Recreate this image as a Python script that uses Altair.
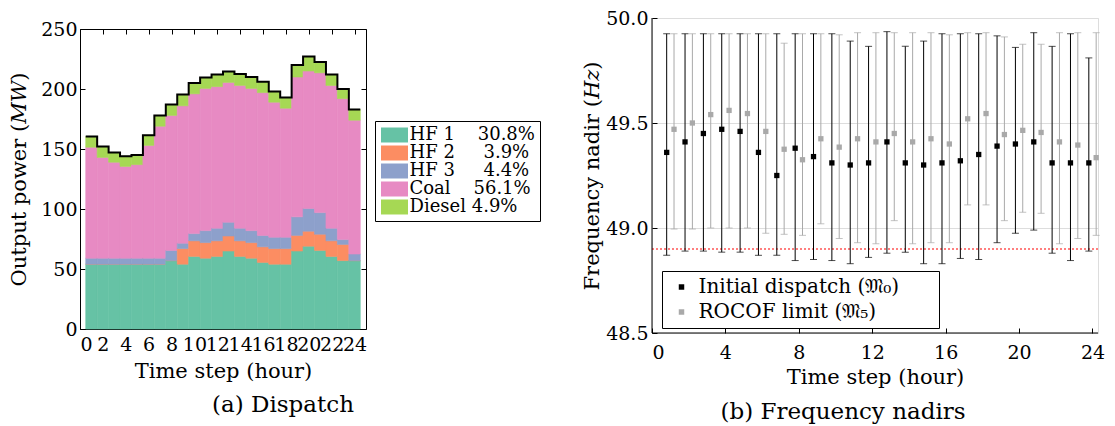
import altair as alt
import pandas as pd

FONT = "DejaVu Serif"
FS_TICK = 19
FS_TITLE = 21
FS_LEG = 18
FS_LEG_R = 20
FS_CAP = 23

# ---------------- Data: dispatch (left) ----------------
hours = list(range(1, 25))
sources = ["HF 1", "HF 2", "HF 3", "Coal", "Diesel"]
shares = ["30.8%", "3.9%", "4.4%", "56.1%", "4.9%"]
colors = ["#66c2a5", "#fc8d62", "#8da0cb", "#e78ac3", "#a6d854"]

hf1 = [54, 54, 54, 54, 54, 54, 54, 57, 54, 60.5, 59, 60.5, 65, 60.5, 59, 55.5, 54, 54, 65, 69, 65.5, 60.5, 57, 57]
hf2 = [0, 0, 0, 0, 0, 0, 0, 0, 13, 13, 13, 13, 12.5, 13, 13, 13, 13, 13, 13, 12.5, 13.5, 13, 13.5, 0]
hf3 = [5, 5, 5, 5, 5, 5, 5, 8.5, 4.5, 6, 10, 10.5, 11.5, 10.5, 10, 9.5, 9.5, 9.5, 15.5, 19, 18, 10.5, 4, 5.5]
coal = [92.5, 84, 80, 76.5, 78, 94, 110, 112.5, 114.5, 116.5, 118.5, 118, 116.5, 119, 118.5, 119, 112.5, 107.5, 116.5, 114.5, 116.5, 119, 117.5, 111.5]
diesel = [9, 9, 8, 8.5, 8, 8.5, 9, 9, 9.5, 9, 9, 10, 9, 9.5, 9.5, 9, 9, 9, 10, 12, 9, 9, 8, 9]

# ---------------- Data: frequency nadirs (right) ----------------
series = ["Initial dispatch (\U0001D510\u2080)", "ROCOF limit (\U0001D510\u2085)"]
init_nadir = [49.36, 49.41, 49.45, 49.47, 49.46, 49.36, 49.25, 49.38, 49.34, 49.31, 49.30, 49.31,
              49.41, 49.31, 49.30, 49.31, 49.32, 49.35, 49.39, 49.40, 49.41, 49.31, 49.31, 49.31]
init_hi = [49.925, 49.925, 49.925, 49.925, 49.925, 49.925, 49.925, 49.925, 49.925, 49.925, 49.89, 49.865,
           49.935, 49.865, 49.89, 49.925, 49.925, 49.925, 49.915, 49.86, 49.93, 49.865, 49.925, 49.81]
init_lo = [48.87, 48.89, 48.89, 48.885, 48.885, 48.87, 48.87, 48.845, 48.85, 48.845, 48.83, 48.86,
           48.88, 48.885, 48.83, 48.83, 48.855, 48.85, 48.93, 48.975, 48.99, 48.88, 48.845, 48.89]
rocof_nadir = [49.47, 49.50, 49.54, 49.56, 49.545, 49.46, 49.375, 49.325, 49.425, 49.385, 49.425, 49.41,
               49.45, 49.41, 49.425, 49.40, 49.52, 49.545, 49.445, 49.465, 49.455, 49.41, 49.395, 49.335]
rocof_hi = [49.925, 49.925, 49.925, 49.925, 49.925, 49.925, 49.88, 49.925, 49.925, 49.92, 49.93, 49.93,
            49.93, 49.93, 49.93, 49.92, 49.93, 49.93, 49.91, 49.875, 49.875, 49.93, 49.93, 49.93]
rocof_lo = [48.995, 48.995, 49.0, 49.0, 49.0, 48.975, 48.97, 48.965, 49.02, 48.95, 48.93, 48.925,
            49.035, 48.925, 48.93, 48.93, 49.11, 49.11, 49.035, 49.075, 49.07, 48.925, 48.95, 48.965]
nadir_limit = 48.9

# ---------------- Build tables ----------------
comp = [hf1, hf2, hf3, coal, diesel]
rows = []
for i, h in enumerate(hours):
    for k, s in enumerate(sources):
        rows.append({"hour": h, "source": s, "order": k, "value": comp[k][i]})
df_disp = pd.DataFrame(rows)

tot_rows = []
for i, h in enumerate(hours):
    total = sum(c[i] for c in comp)
    tot_rows.append({"seq": 2 * h, "xp": h - 0.5, "total": total})
    tot_rows.append({"seq": 2 * h + 1, "xp": h + 0.5, "total": total})
df_tot = pd.DataFrame(tot_rows)

shift = {series[0]: -0.2, series[1]: 0.2}
frows = []
for i, h in enumerate(hours):
    frows.append({"hour": h, "series": series[0], "x": h + shift[series[0]],
                  "nadir": init_nadir[i], "lo": init_lo[i], "hi": init_hi[i]})
    frows.append({"hour": h, "series": series[1], "x": h + shift[series[1]],
                  "nadir": rocof_nadir[i], "lo": rocof_lo[i], "hi": rocof_hi[i]})
df_freq = pd.DataFrame(frows)

# ---------------- Left chart ----------------
NB = "\u00a0"
label_map = {
    "HF 1": "HF 1" + NB * 4 + shares[0],
    "HF 2": "HF 2" + NB * 5 + shares[1],
    "HF 3": "HF 3" + NB * 5 + shares[2],
    "Coal": "Coal" + NB * 4 + shares[3],
    "Diesel": "Diesel" + NB + shares[4],
}
label_expr = "{" + ",".join(f"'{k}':'{v}'" for k, v in label_map.items()) + "}[datum.label]"

xdom_l = [0, 25]
ydom_l = [0, 250]
xticks_l = list(range(0, 25, 2))
yticks_l = [0, 50, 100, 150, 200, 250]

ax_common = dict(labelFont=FONT, labelFontSize=FS_TICK, titleFont=FONT, titleFontSize=FS_TITLE,
                 titleFontWeight="normal", labelColor="black", titleColor="black",
                 tickColor="black", domain=False, grid=False, offset=-5, tickSize=5)

color_l = alt.Scale(domain=sources, range=colors)
rects = alt.Chart(df_disp).transform_stack(
    stack="value", groupby=["hour"], sort=[alt.SortField("order")], as_=["y0", "y1"]
).transform_calculate(
    x0="datum.hour - 0.5", x1="datum.hour + 0.5"
).mark_rect(strokeWidth=0.6).encode(
    x=alt.X("x0:Q", scale=alt.Scale(domain=xdom_l, nice=False),
            axis=alt.Axis(values=xticks_l, title="Time step (hour)", labelOverlap=False,
                          labelPadding=6, titlePadding=6, orient="bottom", **ax_common)),
    x2="x1:Q",
    y=alt.Y("y1:Q", scale=alt.Scale(domain=ydom_l, nice=False),
            axis=alt.Axis(values=yticks_l, title="Output power (\U0001D440\U0001D44A)",
                          labelPadding=3, titlePadding=11, orient="left", **ax_common)),
    y2="y0:Q",
    stroke=alt.Stroke("source:N", scale=color_l, legend=None),
    color=alt.Color("source:N", scale=color_l, sort=sources,
                    legend=alt.Legend(orient="none", legendX=295, legendY=103, title=None,
                                      labelFont=FONT, labelFontSize=FS_LEG, labelColor="black",
                                      labelExpr=label_expr, labelOffset=6,
                                      symbolType="M-1.8,-1L1.8,-1L1.8,1L-1.8,1Z",
                                      symbolSize=225, symbolStrokeWidth=0, symbolOpacity=1,
                                      symbolOffset=5.5, padding=5, rowPadding=0,
                                      strokeColor="black", fillColor="white", labelLimit=300)),
)

total_line = alt.Chart(df_tot).mark_line(color="black", strokeWidth=2).encode(
    x=alt.X("xp:Q", scale=alt.Scale(domain=xdom_l, nice=False),
            axis=alt.Axis(values=xticks_l, title=None, orient="top", labels=False,
                          tickColor="black", domain=False, grid=False, offset=-5, tickSize=5)),
    y=alt.Y("total:Q", scale=alt.Scale(domain=ydom_l, nice=False),
            axis=alt.Axis(values=yticks_l, title=None, orient="right", labels=False,
                          tickColor="black", domain=False, grid=False, offset=-5, tickSize=5)),
    order=alt.Order("seq:Q"),
)

left = alt.layer(rects, total_line).resolve_scale(x="independent", y="independent").properties(
    width=286, height=300,
    view=alt.ViewBackground(stroke="black", strokeWidth=1),
    title=alt.TitleParams("(a) Dispatch", orient="bottom", anchor="middle", frame="group",
                          font=FONT, fontSize=FS_CAP, fontWeight="normal", color="black",
                          offset=13, dx=60),
)

# empty spacer that lowers the dispatch panel a few pixels, as in the original figure
spacer = alt.Chart(pd.DataFrame({"v": []})).mark_point(opacity=0).properties(width=286, height=1)
left_col = alt.vconcat(spacer, left, spacing=0)

# ---------------- Right chart ----------------
xdom_r = [0, 24.3]
ydom_r = [48.5, 50.0]
xticks_r = list(range(0, 25, 2))
yticks_r = [48.5, 49.0, 49.5, 50.0]

base = alt.Chart(df_freq)
xr = alt.X("x:Q", scale=alt.Scale(domain=xdom_r, nice=False),
           axis=alt.Axis(values=xticks_r, title="Time step (hour)", labelOverlap=False,
                         labelPadding=10, titlePadding=4, **ax_common))
yscale_r = alt.Scale(domain=ydom_r, nice=False)

leg_r = alt.Legend(orient="none", legendX=10, legendY=253, title=None,
                   labelFont=FONT, labelFontSize=FS_LEG_R, labelColor="black",
                   symbolType="square", symbolSize=30, symbolOpacity=1, symbolStrokeWidth=0,
                   symbolOffset=3.5, labelOffset=7, padding=6, rowPadding=5,
                   strokeColor="black", fillColor="white", labelLimit=400,
                   labelExpr="datum.label + '" + NB * 3 + "\u2800'")
color_r = alt.Color("series:N", scale=alt.Scale(domain=series, range=["#000000", "#a9a9a9"]),
                    legend=leg_r)

grid_axis = alt.Axis(values=yticks_r, format=".1f", title="Frequency nadir (\U0001D43B\U0001D467)",
                     labelPadding=4, titlePadding=3, gridColor="#dddddd", gridWidth=1,
                     labelFont=FONT, labelFontSize=FS_TICK, titleFont=FONT, titleFontSize=FS_TITLE,
                     titleFontWeight="normal", labelColor="black", titleColor="black",
                     tickColor="black", domain=False, grid=True, offset=-5, tickSize=5)

bars = base.mark_rule(strokeWidth=1).encode(
    x=xr, y=alt.Y("lo:Q", scale=yscale_r, axis=grid_axis), y2="hi:Q", color=color_r)
cap_hi = base.mark_tick(orient="horizontal", size=7, thickness=1).encode(
    x="x:Q", y=alt.Y("hi:Q", scale=yscale_r), color=color_r)
cap_lo = base.mark_tick(orient="horizontal", size=7, thickness=1).encode(
    x="x:Q", y=alt.Y("lo:Q", scale=yscale_r), color=color_r)
marks = base.mark_square(size=28, opacity=1).encode(
    x="x:Q", y=alt.Y("nadir:Q", scale=yscale_r), color=color_r)
limit_rule = alt.Chart().mark_rule(color="red", strokeWidth=1.2, strokeDash=[2, 2]).encode(
    y=alt.datum(nadir_limit, scale=yscale_r))
bottom_line = alt.Chart().mark_rule(color="black", strokeWidth=1).encode(
    y=alt.datum(ydom_r[0], scale=yscale_r))
left_line = alt.Chart().mark_rule(color="black", strokeWidth=1).encode(
    x=alt.datum(xdom_r[0]))

right = alt.layer(limit_rule, bars, cap_hi, cap_lo, marks, bottom_line, left_line).properties(
    width=446, height=315,
    title=alt.TitleParams("(b) Frequency nadirs", orient="bottom", anchor="middle", frame="group",
                          font=FONT, fontSize=FS_CAP, fontWeight="normal", color="black",
                          offset=14, dx=-32),
)

chart = alt.hconcat(left_col, right, spacing=40).resolve_scale(
    color="independent"
).configure_view(stroke=None).configure(font=FONT, padding=0)

chart.save("out.html", embed_options={"renderer": "svg", "actions": False})
